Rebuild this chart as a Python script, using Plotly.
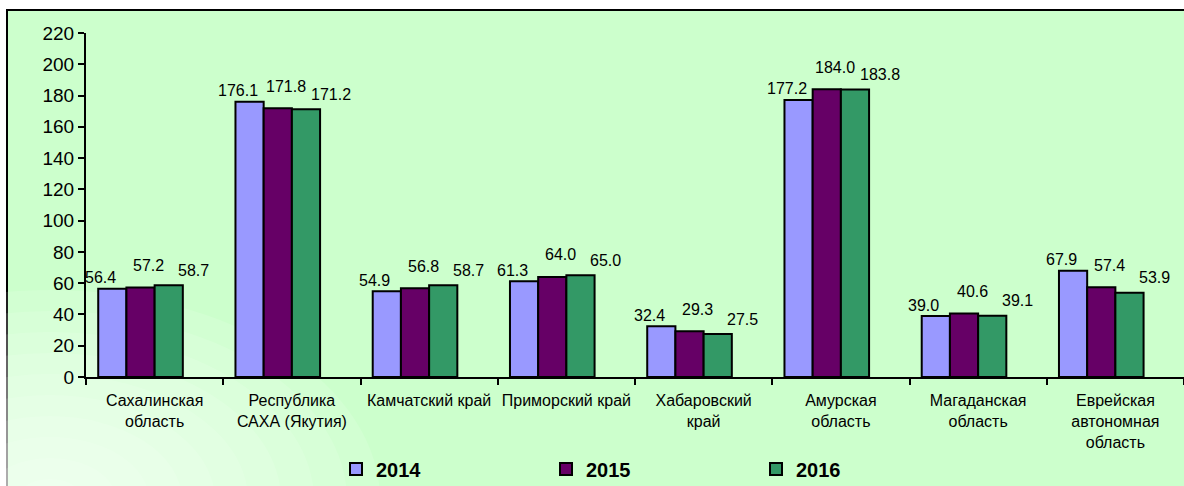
import plotly.graph_objects as go

# ---- data ----
regions = [
    "Сахалинская<br>область",
    "Республика<br>САХА (Якутия)",
    "Камчатский край",
    "Приморский край",
    "Хабаровский<br>край",
    "Амурская<br>область",
    "Магаданская<br>область",
    "Еврейская<br>автономная<br>область",
]
years = ["2014", "2015", "2016"]
v2014 = [56.4, 176.1, 54.9, 61.3, 32.4, 177.2, 39.0, 67.9]
v2015 = [57.2, 171.8, 56.8, 64.0, 29.3, 184.0, 40.6, 57.4]
v2016 = [58.7, 171.2, 58.7, 65.0, 27.5, 183.8, 39.1, 53.9]
y_ticks = [0, 20, 40, 60, 80, 100, 120, 140, 160, 180, 200, 220]

# ---- styling ----
colors = ["#9999FF", "#660066", "#339966"]
W, H = 1184, 486
ML, MR, MT, MB = 86, 0, 33, 109
PW, PH = W - ML - MR, H - MT - MB
cat_px = PW / len(regions)
bar_w = 0.2055
offsets = [-0.411, -0.2055, 0.0]
label_dx = [-12, 8, 25]
label_dy = [11, 22, 15]
FONT = "Liberation Sans, Arial, sans-serif"


def px_x(p):
    return (p - ML) / PW


def px_y(p):
    return (H - MB - p) / PH


fig = go.Figure()
series = [v2014, v2015, v2016]
for i, (name, vals) in enumerate(zip(years, series)):
    fig.add_trace(go.Bar(
        x=regions, y=vals, name=name,
        width=bar_w, offset=offsets[i],
        marker=dict(color=colors[i], line=dict(color="black", width=2)),
        hoverinfo="x+y+name",
    ))
    for r, v in zip(regions, vals):
        fig.add_annotation(
            x=r, y=v, xref="x", yref="y", text=f"{v:.1f}", showarrow=False,
            xshift=(offsets[i] + bar_w / 2) * cat_px + label_dx[i],
            yshift=label_dy[i], yanchor="middle", xanchor="center",
            font=dict(family=FONT, size=16, color="black"),
        )

shapes = [
    dict(type="rect", xref="paper", yref="paper",
         x0=px_x(7), x1=px_x(W + 20), y0=px_y(H + 20), y1=px_y(10),
         fillcolor="#CCFFCC", line=dict(color="black", width=2), layer="below"),
]
# soft whitish glow toward bottom-left corner
n = 10
for k in range(n):
    f = 1 - k / n
    shapes.append(dict(
        type="circle", xref="paper", yref="paper",
        x0=px_x(50 - 330 * f), x1=px_x(50 + 330 * f),
        y0=px_y(500 + 210 * f), y1=px_y(500 - 210 * f),
        fillcolor="white", opacity=0.12, line=dict(width=0), layer="below",
    ))

fig.update_layout(
    width=W, height=H,
    margin=dict(l=ML, r=MR, t=MT, b=MB, autoexpand=False),
    paper_bgcolor="white", plot_bgcolor="rgba(0,0,0,0)",
    barmode="group",
    shapes=shapes,
    font=dict(family=FONT, color="black"),
    showlegend=True,
    legend=dict(
        orientation="h", x=px_x(336), y=px_y(469), xanchor="left", yanchor="middle",
        bgcolor="rgba(0,0,0,0)", entrywidth=165, entrywidthmode="pixels",
        font=dict(family=FONT, size=20, color="black", weight="bold"),
        itemclick=False, itemdoubleclick=False,
    ),
    xaxis=dict(
        type="category", range=[-0.5, len(regions) - 0.5],
        showline=True, linecolor="black", linewidth=2,
        ticks="outside", tickson="boundaries", ticklen=6, tickwidth=2, tickcolor="black",
        tickfont=dict(family=FONT, size=16, color="black"),
        tickangle=0, ticklabelstandoff=8,
        showgrid=False, zeroline=False, fixedrange=True,
    ),
    yaxis=dict(
        range=[0, 220], tickvals=y_ticks, ticktext=[str(t) for t in y_ticks],
        showline=True, linecolor="black", linewidth=2,
        ticks="outside", ticklen=6, tickwidth=2, tickcolor="black",
        tickfont=dict(family=FONT, size=19, color="black"),
        showgrid=False, zeroline=False, fixedrange=True,
    ),
)

fig.write_html(
    "out.html",
    config={"displayModeBar": False},
    post_script="document.body.style.margin='0';document.body.style.overflow='hidden';",
)
